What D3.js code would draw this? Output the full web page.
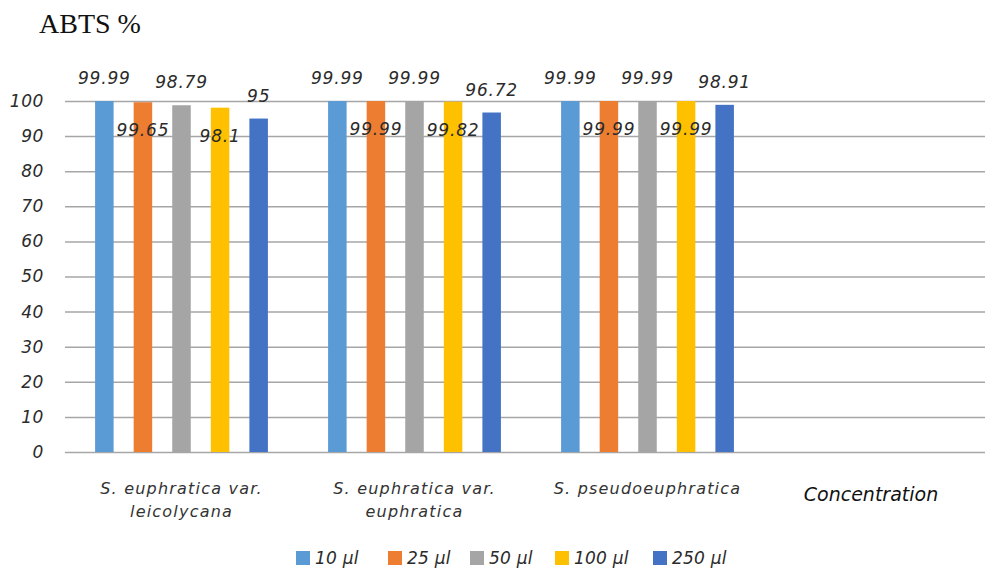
<!DOCTYPE html>
<html>
<head>
<meta charset="utf-8">
<script src="https://cdn.jsdelivr.net/npm/d3@7"></script>
<style>
  body { margin: 0; background: #fff; }
  text { font-family: "DejaVu Sans", sans-serif; }
</style>
</head>
<body>
<div id="chart"></div>
<script>
// chart data
var categories = ["S. euphratica var. leicolycana", "S. euphratica var. euphratica", "S. pseudoeuphratica"];
var series = ["10 µl", "25 µl", "50 µl", "100 µl", "250 µl"];
var values10 = [99.99, 99.99, 99.99];
var values25 = [99.65, 99.99, 99.99];
var values50 = [98.79, 99.99, 99.99];
var values100 = [98.1, 99.82, 99.99];
var values250 = [95, 96.72, 98.91];
var yTicks = [0, 10, 20, 30, 40, 50, 60, 70, 80, 90, 100];

var colors = ["#5B9BD5", "#ED7D31", "#A5A5A5", "#FFC000", "#4472C4"];
var seriesValues = [values10, values25, values50, values100, values250];

var width = 987, height = 573;
var plotLeft = 65, plotRight = 985, plotTop = 101, plotBottom = 452;

var svg = d3.select("#chart").append("svg")
    .attr("width", width).attr("height", height);

var x0 = d3.scaleBand().domain(categories).range([plotLeft, plotLeft + 3 * 233]);
var x1 = d3.scaleBand().domain(series).range([0, x0.bandwidth()])
    .paddingInner(0.52).paddingOuter(0.78);
var y = d3.scaleLinear().domain([0, 100]).range([plotBottom, plotTop]);

// title
svg.append("text")
    .attr("x", 39).attr("y", 33)
    .style("font-family", "'Liberation Serif', 'Times New Roman', serif")
    .style("font-size", "28px")
    .attr("fill", "#111")
    .text("ABTS %");

// y axis + gridlines
var yAxis = d3.axisLeft(y).tickValues(yTicks).tickSize(-(plotRight - plotLeft)).tickPadding(21);
var ga = svg.append("g").attr("transform", "translate(" + plotLeft + ",0)").call(yAxis);
ga.select(".domain").remove();
ga.selectAll(".tick line").attr("stroke", "#a6a6a6").attr("stroke-width", 1.5);
ga.selectAll(".tick text")
    .style("font-size", "17px")
    .style("font-style", "italic")
    .style("letter-spacing", "0.6px")
    .attr("fill", "#2b2b2b");

// bars
var groups = svg.selectAll(".grp").data(categories).enter().append("g")
    .attr("class", "grp")
    .attr("transform", function(d) { return "translate(" + x0(d) + ",0)"; });

var rows = function(ci) {
  return series.map(function(s, si) {
    return { s: s, si: si, v: seriesValues[si][ci] };
  });
};

groups.each(function(c, ci) {
  var g = d3.select(this);
  var data = rows(ci);
  g.selectAll("rect").data(data).enter().append("rect")
    .attr("x", function(d) { return x1(d.s); })
    .attr("width", x1.bandwidth())
    .attr("y", function(d) { return y(d.v); })
    .attr("height", function(d) { return plotBottom - y(d.v); })
    .attr("fill", function(d) { return colors[d.si]; });
  g.selectAll(".lbl").data(data).enter().append("text")
    .attr("class", "lbl")
    .attr("x", function(d) { return x1(d.s) + x1.bandwidth() / 2; })
    .attr("y", function(d) {
      return (d.si == 1 || d.si == 3) ? y(d.v) + 28 : y(d.v) - 23;
    })
    .attr("text-anchor", "middle")
    .attr("dominant-baseline", "central")
    .style("font-size", "17px")
    .style("font-style", "italic")
    .style("letter-spacing", "0.8px")
    .attr("fill", "#2b2b2b")
    .text(function(d) { return d.v; });
});

// category labels
groups.append("text")
    .attr("text-anchor", "middle")
    .style("font-size", "16px")
    .style("font-style", "italic")
    .style("letter-spacing", "1.2px")
    .attr("fill", "#333")
    .each(function(d) {
      var t = d3.select(this);
      var idx = d.indexOf("var.");
      var lines = idx >= 0 ? [d.slice(0, idx + 4), d.slice(idx + 5)] : [d];
      lines.forEach(function(l, i) {
        t.append("tspan")
          .attr("x", x0.bandwidth() / 2)
          .attr("y", 494 + i * 23)
          .text(l);
      });
    });

// axis title
svg.append("text")
    .attr("x", 871).attr("y", 501)
    .attr("text-anchor", "middle")
    .style("font-size", "19px")
    .style("font-style", "italic")
    .attr("fill", "#111")
    .text("Concentration");

// legend
var legendX = [296, 388, 470, 555, 653];
var leg = svg.selectAll(".leg").data(series).enter().append("g")
    .attr("class", "leg")
    .attr("transform", function(d, i) { return "translate(" + legendX[i] + ",558)"; });
leg.append("rect")
    .attr("x", 0).attr("y", -7).attr("width", 14).attr("height", 14)
    .attr("fill", function(d, i) { return colors[i]; });
leg.append("text")
    .attr("x", 19).attr("y", 0)
    .attr("dominant-baseline", "central")
    .style("font-size", "17px")
    .style("font-style", "italic")
    .style("letter-spacing", "0.2px")
    .attr("fill", "#2b2b2b")
    .text(function(d) { return d; });
</script>
</body>
</html>
